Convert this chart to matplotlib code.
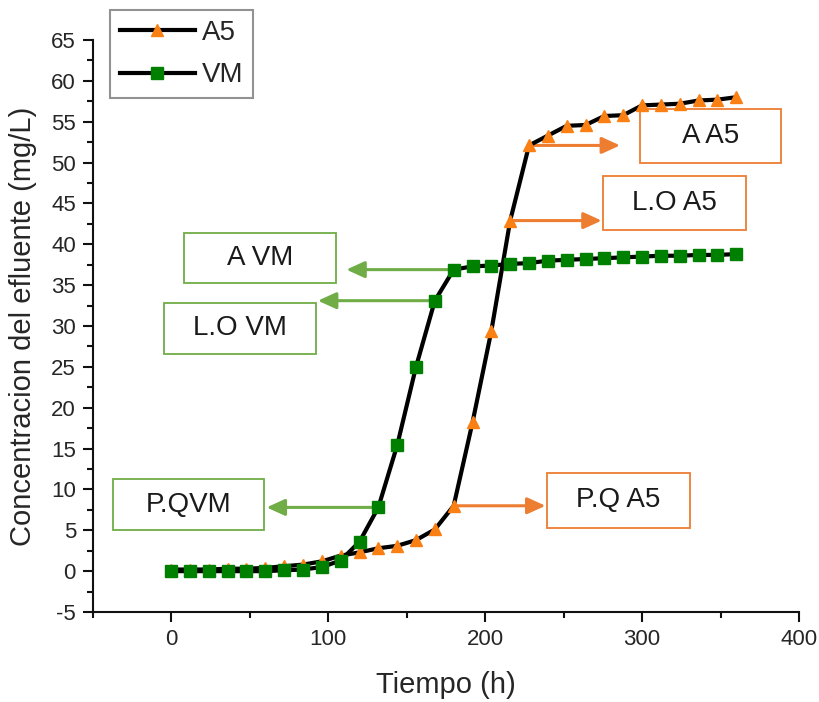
import matplotlib
matplotlib.use("Agg")
import matplotlib.pyplot as plt
from matplotlib.patches import Rectangle, FancyArrowPatch
from matplotlib.ticker import MultipleLocator

plt.rcParams['font.family'] = ['Liberation Sans', 'DejaVu Sans']
plt.rcParams['axes.unicode_minus'] = False

# ---- data ----
time_h = [0, 12, 24, 36, 48, 60, 72, 84, 96, 108, 120, 132, 144, 156, 168, 180,
          192, 204, 216, 228, 240, 252, 264, 276, 288, 300, 312, 324, 336, 348, 360]
a5 = [0.2, 0.2, 0.2, 0.3, 0.3, 0.4, 0.6, 0.8, 1.2, 1.9, 2.3, 2.8, 3.1, 3.8, 5.1, 8.0,
      18.2, 29.4, 42.9, 52.1, 53.3, 54.5, 54.6, 55.7, 55.8, 57.0, 57.1, 57.2, 57.6, 57.7, 58.0]
vm = [0.0, 0.0, 0.0, 0.0, 0.0, 0.0, 0.1, 0.2, 0.5, 1.3, 3.6, 7.8, 15.4, 25.0, 33.1, 36.9,
      37.3, 37.4, 37.6, 37.7, 38.0, 38.1, 38.2, 38.3, 38.4, 38.5, 38.6, 38.6, 38.7, 38.7, 38.8]
series_labels = ["A5", "VM"]

x_ticks = [0, 100, 200, 300, 400]
y_ticks = [-5, 0, 5, 10, 15, 20, 25, 30, 35, 40, 45, 50, 55, 60, 65]

ORANGE_M = '#FA8014'
GREEN_M = '#008000'
ORANGE_A = '#ED7D31'
GREEN_A = '#70AD47'

fig = plt.figure(figsize=(8.2, 7.02), dpi=100)
ax = fig.add_axes([0.113, 0.1282, 0.8614, 0.8148])

l1, = ax.plot(time_h, a5, color='black', lw=3, marker='^', markersize=9,
              markerfacecolor=ORANGE_M, markeredgecolor=ORANGE_M, zorder=3,
              label=series_labels[0])
l2, = ax.plot(time_h, vm, color='black', lw=3, marker='s', markersize=8,
              markerfacecolor=GREEN_M, markeredgecolor=GREEN_M, zorder=4,
              label=series_labels[1])

ax.set_xlim(-50, 400)
ax.set_ylim(-5, 65)
ax.set_xticks(x_ticks)
ax.set_yticks(y_ticks)
ax.xaxis.set_minor_locator(MultipleLocator(50))
ax.yaxis.set_minor_locator(MultipleLocator(2.5))
for s in ['top', 'right']:
    ax.spines[s].set_visible(False)
for s in ['left', 'bottom']:
    ax.spines[s].set_linewidth(1.5)
    ax.spines[s].set_color('#111111')
ax.tick_params(axis='both', which='major', direction='out', length=7, width=1.5,
               labelsize=16, labelcolor='#262626', color='#111111', pad=5)
ax.tick_params(axis='both', which='minor', direction='out', length=4, width=1.5,
               color='#111111')

ax.set_xlabel('Tiempo (h)', fontsize=21, color='#262626', labelpad=15)
ax.set_ylabel('Concentracion del efluente (mg/L)', fontsize=21, color='#262626', labelpad=10)

# ---- annotation boxes (layout) ----
# (text, series, index, box x0, box y0, box w, box h, arrow tip x, colour)
notes = [
    ("A A5", a5, 19, 298.4, 50.0, 90.2, 6.6, 286.0, ORANGE_A),
    ("L.O A5", a5, 18, 274.9, 41.7, 91.4, 6.6, 274.3, ORANGE_A),
    ("P.Q A5", a5, 15, 239.4, 5.3, 91.4, 6.7, 238.5, ORANGE_A),
    ("A VM", vm, 15, 8.3, 35.3, 96.5, 6.1, 111.6, GREEN_A),
    ("L.O VM", vm, 14, -4.4, 26.6, 96.5, 6.2, 93.5, GREEN_A),
    ("P.QVM", vm, 11, -36.8, 5.0, 95.8, 6.3, 60.8, GREEN_A),
]
for text, ser, i, bx, by, bw, bh, tipx, col in notes:
    rect = Rectangle((bx, by), bw, bh, facecolor='white', edgecolor=col,
                     lw=1.3, zorder=1.5, clip_on=False)
    ax.add_patch(rect)
    ax.text(bx + bw / 2, by + bh / 2, text, ha='center', va='center',
            fontsize=20, color='#1a1a1a', zorder=1.6)
    arr = FancyArrowPatch((time_h[i], ser[i]), (tipx, ser[i]),
                          arrowstyle='-|>,head_length=0.55,head_width=0.25',
                          mutation_scale=20, color=col, lw=2.2,
                          shrinkA=0, shrinkB=0, zorder=2.5)
    ax.add_patch(arr)

leg = fig.legend(handles=[l1, l2], loc='upper left',
                 bbox_to_anchor=(110 / 820, 1 - 10 / 702),
                 fontsize=20, frameon=True, fancybox=False, numpoints=1,
                 handlelength=2.7, handletextpad=0.25, labelspacing=0.6,
                 borderpad=0.35, borderaxespad=0)
leg.get_frame().set_edgecolor('#777777')
leg.get_frame().set_linewidth(1.5)
for t in leg.get_texts():
    t.set_color('#262626')

fig.savefig('out.png', dpi=100)
